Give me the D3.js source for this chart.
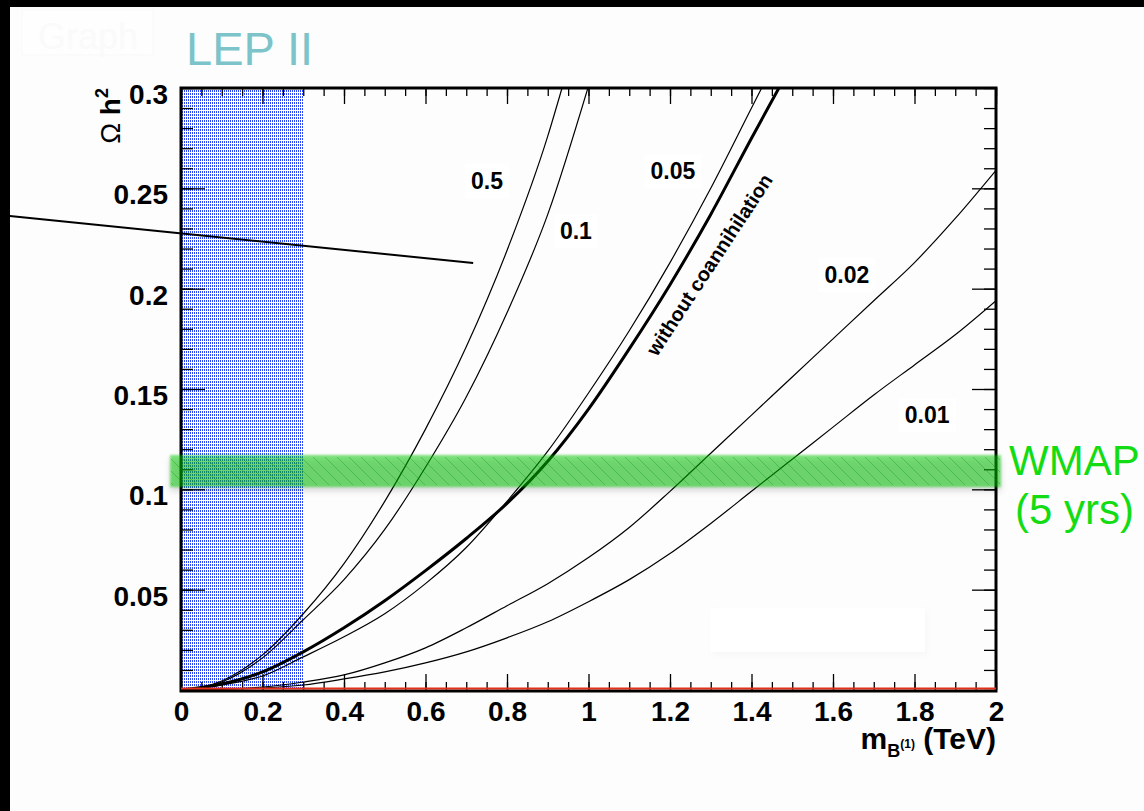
<!DOCTYPE html>
<html>
<head>
<meta charset="utf-8">
<script src="https://cdn.jsdelivr.net/npm/d3@7"></script>
<style>
  html, body { margin: 0; padding: 0; background: #000; }
  svg { display: block; }
</style>
</head>
<body>
<svg id="chart" width="1144" height="811"></svg>
<script>
// Relic density Omega h^2 versus the B(1) mass, for several mass splittings.
const xTicksMajor = [0, 0.2, 0.4, 0.6, 0.8, 1, 1.2, 1.4, 1.6, 1.8, 2];
const yTicksMajor = [0.05, 0.1, 0.15, 0.2, 0.25, 0.3];
const curveLabels = ["0.5", "0.1", "0.05", "0.02", "0.01"];

// [mass (TeV), Omega h^2]
const curve05 = [[0,0],[0.1,0.0045],[0.2,0.0175],[0.3,0.038],[0.4,0.063],[0.5,0.094],[0.6,0.130],[0.7,0.171],[0.8,0.219],[0.9,0.276],[0.935,0.300]];
const curve01 = [[0,0],[0.1,0.004],[0.2,0.016],[0.3,0.035],[0.4,0.055],[0.5,0.080],[0.6,0.111],[0.7,0.146],[0.8,0.188],[0.9,0.237],[1.0,0.301]];
const curve005 = [[0,0],[0.1,0.0025],[0.2,0.007],[0.3,0.0165],[0.4,0.0265],[0.5,0.038],[0.6,0.053],[0.7,0.071],[0.8,0.094],[0.9,0.119],[1.0,0.148],[1.1,0.179],[1.2,0.213],[1.3,0.250],[1.4,0.290],[1.43,0.302]];
const curveNoCoann = [[0,0],[0.1,0.003],[0.2,0.009],[0.3,0.019],[0.4,0.031],[0.5,0.0445],[0.6,0.0595],[0.7,0.0755],[0.8,0.093],[0.9,0.114],[1.0,0.140],[1.1,0.170],[1.2,0.202],[1.3,0.237],[1.4,0.275],[1.47,0.301]];
const curve002 = [[0,0],[0.1,0.0004],[0.2,0.0015],[0.3,0.004],[0.4,0.0075],[0.5,0.0135],[0.6,0.021],[0.7,0.031],[0.8,0.042],[0.9,0.053],[1.0,0.066],[1.1,0.081],[1.2,0.099],[1.3,0.118],[1.4,0.137],[1.5,0.156],[1.6,0.175],[1.7,0.194],[1.8,0.213],[1.9,0.235],[2.0,0.259]];
const curve001 = [[0,0],[0.1,0.0003],[0.2,0.001],[0.3,0.0025],[0.4,0.0055],[0.5,0.009],[0.6,0.0135],[0.7,0.019],[0.8,0.026],[0.9,0.034],[1.0,0.044],[1.1,0.055],[1.2,0.068],[1.3,0.083],[1.4,0.099],[1.5,0.115],[1.6,0.131],[1.7,0.147],[1.8,0.162],[1.9,0.177],[2.0,0.194]];
const lowestCurve = [[0,0.0008],[2,0.0008]];

// Excluded region and measured band
const lepExcluded = [0, 0.3];
const wmapBand = [0.1011, 0.1171];
// Label anchors, [mass, Omega h^2]
const curveLabelAt = [[0.751,0.2536],[0.969,0.229],[1.207,0.2586],[1.634,0.2068],[1.831,0.137]];
const noCoannLabelAt = [1.296, 0.212];
const pointerLine = [[-0.42,0.2362],[0.717,0.2128]];

const W = 1144, H = 811;
const svg = d3.select("#chart");
const FONT = "'Liberation Sans', Arial, Helvetica, sans-serif";

const x = d3.scaleLinear().domain([0, 2]).range([181, 996]);
const y = d3.scaleLinear().domain([0, 0.3]).range([690, 88]);

const defs = svg.append("defs");
const dots = defs.append("pattern").attr("id", "lepDots")
  .attr("patternUnits", "userSpaceOnUse").attr("width", 2).attr("height", 3);
dots.append("rect").attr("width", 2).attr("height", 3).attr("fill", "#ffffff");
dots.append("rect").attr("width", 1).attr("height", 2).attr("fill", "#2a46f0");

const hatch = defs.append("pattern").attr("id", "wmapHatch")
  .attr("patternUnits", "userSpaceOnUse").attr("width", 12).attr("height", 12);
hatch.append("path").attr("d", "M-3,-3 L15,15 M-15,-3 L3,15 M9,-3 L27,15")
  .attr("stroke", "rgba(0,140,0,0.32)").attr("stroke-width", 1);

const soft = defs.append("filter").attr("id", "soft").attr("x", "-5%").attr("y", "-50%").attr("width", "110%").attr("height", "200%");
soft.append("feGaussianBlur").attr("stdDeviation", 1.2);
const shade = defs.append("filter").attr("id", "shade").attr("x", "-5%").attr("y", "-50%").attr("width", "110%").attr("height", "200%");
shade.append("feGaussianBlur").attr("stdDeviation", 3);

defs.append("clipPath").attr("id", "frameClip").append("rect")
  .attr("x", x(0)).attr("y", y(0.3)).attr("width", x(2) - x(0)).attr("height", y(0) - y(0.3));

// canvas
svg.append("rect").attr("x", 10).attr("y", 7).attr("width", W - 10).attr("height", H - 7).attr("fill", "#fdfdfd");

// faint title box
svg.append("rect").attr("x", 22).attr("y", 10).attr("width", 131).attr("height", 45)
  .attr("fill", "#fefefe").attr("stroke", "#f9f9f9");
svg.append("text").attr("x", 38).attr("y", 49).attr("font-family", FONT).attr("font-size", 36)
  .attr("fill", "#fafafa").text("Graph");

// LEP II excluded strip
svg.append("rect")
  .attr("x", x(lepExcluded[0])).attr("y", y(0.3))
  .attr("width", x(lepExcluded[1]) - x(lepExcluded[0])).attr("height", y(0) - y(0.3))
  .attr("fill", "url(#lepDots)");

// faint legend box
svg.append("rect").attr("x", 712).attr("y", 611).attr("width", 215).attr("height", 44).attr("fill", "#f7f7f7").attr("filter", "url(#shade)");
svg.append("rect").attr("x", 710).attr("y", 608).attr("width", 215).attr("height", 44).attr("fill", "#ffffff");

// curves
const line = d3.line().x(d => x(d[0])).y(d => y(d[1])).curve(d3.curveMonotoneX);
const curves = svg.append("g").attr("clip-path", "url(#frameClip)");
[curve05, curve01, curve005, curve002, curve001].forEach(c => {
  curves.append("path").attr("d", line(c)).attr("fill", "none")
    .attr("stroke", "#000").attr("stroke-width", 1.2);
});
curves.append("path").attr("d", line(curveNoCoann)).attr("fill", "none")
  .attr("stroke", "#000").attr("stroke-width", 3);

// axes
function styleAxis(g) {
  g.select(".domain").remove();
  g.selectAll(".tick line").attr("stroke", "#000").attr("stroke-width", 1.3);
  g.selectAll("text").attr("font-family", FONT).attr("font-weight", "bold").attr("font-size", 28).attr("fill", "#000");
}
const xMinor = d3.range(0, 2.0001, 0.05).map(v => +v.toFixed(2));
const yMinor = d3.range(0, 0.3001, 0.01).map(v => +v.toFixed(2));
const fmt = d3.format("~g");

svg.append("g").attr("transform", `translate(0,${y(0)})`)
  .call(d3.axisBottom(x).tickValues(xMinor).tickSize(-8).tickFormat("")).call(styleAxis);
svg.append("g").attr("transform", `translate(0,${y(0)})`)
  .call(d3.axisBottom(x).tickValues(xTicksMajor).tickSize(-16).tickPadding(11).tickFormat(fmt)).call(styleAxis);
svg.append("g").attr("transform", `translate(0,${y(0.3)})`)
  .call(d3.axisTop(x).tickValues(xMinor).tickSize(-8).tickFormat("")).call(styleAxis);
svg.append("g").attr("transform", `translate(0,${y(0.3)})`)
  .call(d3.axisTop(x).tickValues(xTicksMajor).tickSize(-16).tickFormat("")).call(styleAxis);

svg.append("g").attr("transform", `translate(${x(0)},0)`)
  .call(d3.axisLeft(y).tickValues(yMinor).tickSize(-12).tickFormat("")).call(styleAxis);
const yAxisG = svg.append("g").attr("transform", `translate(${x(0)},0)`)
  .call(d3.axisLeft(y).tickValues(yTicksMajor).tickSize(-24).tickPadding(13).tickFormat(fmt)).call(styleAxis);
yAxisG.selectAll("text").attr("dy", "0.55em");
svg.append("g").attr("transform", `translate(${x(2)},0)`)
  .call(d3.axisRight(y).tickValues(yMinor).tickSize(-12).tickFormat("")).call(styleAxis);
svg.append("g").attr("transform", `translate(${x(2)},0)`)
  .call(d3.axisRight(y).tickValues(yTicksMajor).tickSize(-24).tickFormat("")).call(styleAxis);

// frame
svg.append("rect").attr("x", x(0)).attr("y", y(0.3))
  .attr("width", x(2) - x(0)).attr("height", y(0) - y(0.3) + 1)
  .attr("fill", "none").attr("stroke", "#000").attr("stroke-width", 3);

// near-zero curve along the bottom edge
svg.append("path").attr("d", line(lowestCurve)).attr("fill", "none")
  .attr("stroke", "#e2301a").attr("stroke-width", 2);

// WMAP band (drawn over the frame, slightly wider than it)
const bandX0 = x(0) - 11, bandX1 = x(2) + 5;
svg.append("rect").attr("x", bandX0).attr("y", y(wmapBand[1]) + 4)
  .attr("width", bandX1 - bandX0).attr("height", y(wmapBand[0]) - y(wmapBand[1]))
  .attr("fill", "rgba(0,0,0,0.14)").attr("filter", "url(#shade)");
svg.append("rect").attr("x", bandX0).attr("y", y(wmapBand[1]))
  .attr("width", bandX1 - bandX0).attr("height", y(wmapBand[0]) - y(wmapBand[1]))
  .attr("fill", "rgba(10,205,10,0.5)").attr("filter", "url(#soft)");
svg.append("rect").attr("x", bandX0 + 1).attr("y", y(wmapBand[1]) + 2)
  .attr("width", bandX1 - bandX0 - 2).attr("height", y(wmapBand[0]) - y(wmapBand[1]) - 4)
  .attr("fill", "url(#wmapHatch)");

// pointer line
svg.append("path").attr("d", d3.line().x(d => x(d[0])).y(d => y(d[1]))(pointerLine))
  .attr("stroke", "#000").attr("stroke-width", 2).attr("fill", "none");

// curve labels on small white boxes
curveLabels.forEach((t, i) => {
  const cx = x(curveLabelAt[i][0]), cy = y(curveLabelAt[i][1]);
  const box = svg.append("rect").attr("fill", "#ffffff");
  const txt = svg.append("text").attr("x", cx).attr("y", cy).attr("dy", "0.36em")
    .attr("text-anchor", "middle").attr("font-family", FONT).attr("font-weight", "bold")
    .attr("font-size", 23).attr("fill", "#000").text(t);
  const bb = txt.node().getBBox();
  box.attr("x", bb.x - 6).attr("y", bb.y - 4).attr("width", bb.width + 12).attr("height", bb.height + 8);
});
svg.append("text")
  .attr("transform", `translate(${x(noCoannLabelAt[0])},${y(noCoannLabelAt[1])}) rotate(-56.7)`)
  .attr("dy", "0.36em").attr("text-anchor", "middle")
  .attr("font-family", FONT).attr("font-weight", "bold").attr("font-size", 20).attr("fill", "#000")
  .text("without coannihilation");

// axis titles
const xt = svg.append("text").attr("x", x(2)).attr("y", 749).attr("text-anchor", "end")
  .attr("font-family", FONT).attr("font-weight", "bold").attr("font-size", 30).attr("fill", "#000");
xt.append("tspan").text("m");
xt.append("tspan").attr("font-size", 18).attr("dy", 8).text("B");
xt.append("tspan").attr("font-size", 12).attr("dy", -9).text("(1)");
xt.append("tspan").attr("dy", 1).text(" (TeV)");

const yt = svg.append("text").attr("transform", "translate(120,88) rotate(-90)")
  .attr("text-anchor", "end").attr("font-family", FONT).attr("font-size", 28).attr("fill", "#000");
yt.append("tspan").text("Ω");
yt.append("tspan").attr("font-weight", "bold").text(" h");
yt.append("tspan").attr("font-weight", "bold").attr("font-size", 18).attr("dy", -12).text("2");

// headings
svg.append("text").attr("x", 186).attr("y", 65).attr("font-family", FONT).attr("font-size", 47)
  .attr("fill", "#7cc4c9").text("LEP II");
svg.append("text").attr("x", 1009).attr("y", 475).attr("font-family", FONT).attr("font-size", 42)
  .attr("fill", "#14dc14").text("WMAP");
svg.append("text").attr("x", 1015).attr("y", 524).attr("font-family", FONT).attr("font-size", 42)
  .attr("fill", "#14dc14").text("(5 yrs)");
</script>
</body>
</html>
